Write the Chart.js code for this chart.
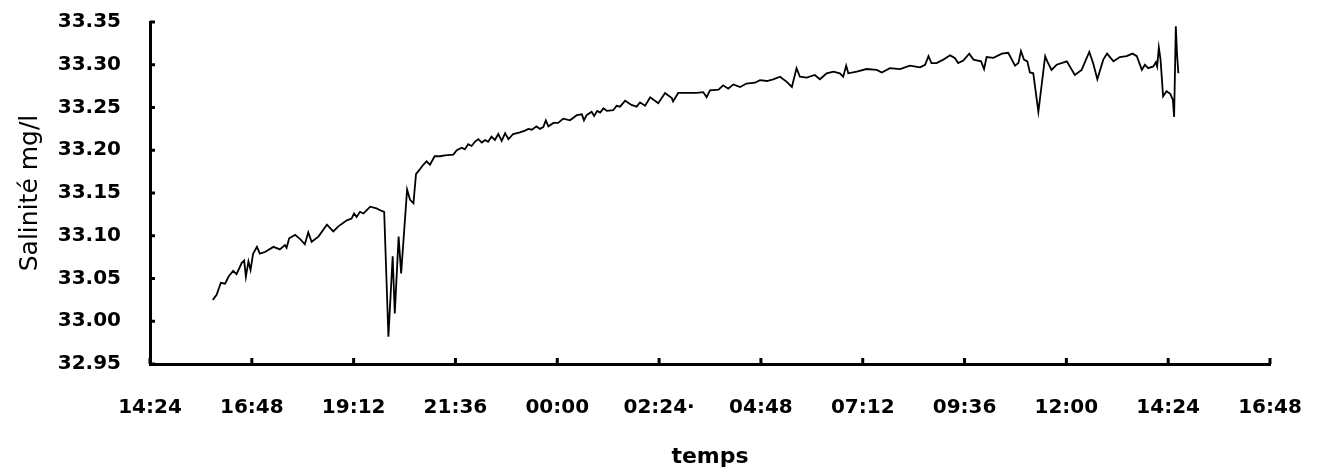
<!DOCTYPE html>
<html>
<head>
<meta charset="utf-8">
<script src="https://cdn.jsdelivr.net/npm/chart.js@4.4.1/dist/chart.umd.min.js"></script>
<style>
  html, body { margin: 0; padding: 0; background: #fff; }
  #wrap { width: 1318px; height: 470px; position: relative; }
</style>
</head>
<body>
<div id="wrap"><canvas id="salChart"></canvas></div>
<script>
// time of day in hours (past 24 = next day), salinity in mg/l
const hours = [
  15.88, 15.97, 16.07, 16.17, 16.25, 16.36, 16.44, 16.56, 16.62, 16.66,
  16.72, 16.77, 16.83, 16.92, 16.99, 17.11, 17.31, 17.46, 17.58, 17.62,
  17.68, 17.82, 17.94, 18.05, 18.13, 18.21, 18.37, 18.57, 18.72, 18.84,
  19.04, 19.15, 19.21, 19.27, 19.35, 19.43, 19.51, 19.59, 19.74, 19.86,
  19.92, 20.02, 20.12, 20.17, 20.26, 20.32, 20.46, 20.53, 20.61, 20.67,
  20.75, 20.84, 20.92, 21.00, 21.11, 21.24, 21.35, 21.55, 21.63, 21.75,
  21.82, 21.90, 21.98, 22.06, 22.14, 22.22, 22.30, 22.37, 22.45, 22.53,
  22.61, 22.69, 22.77, 22.85, 22.96, 23.12, 23.24, 23.32, 23.40, 23.51,
  23.59, 23.67, 23.73, 23.79, 23.91, 24.02, 24.14, 24.30, 24.46, 24.58,
  24.63, 24.69, 24.81, 24.87, 24.94, 25.01, 25.09, 25.17, 25.32, 25.40,
  25.48, 25.60, 25.75, 25.87, 25.95, 26.07, 26.19, 26.38, 26.54, 26.70,
  26.73, 26.85, 27.05, 27.29, 27.44, 27.52, 27.60, 27.80, 27.91, 28.03,
  28.15, 28.31, 28.46, 28.66, 28.78, 28.94, 29.09, 29.25, 29.41, 29.53,
  29.64, 29.72, 29.88, 30.07, 30.19, 30.35, 30.51, 30.66, 30.74, 30.81,
  30.86, 31.06, 31.29, 31.53, 31.65, 31.84, 32.08, 32.31, 32.55, 32.67,
  32.75, 32.82, 32.94, 33.10, 33.26, 33.37, 33.45, 33.57, 33.71, 33.81,
  33.99, 34.06, 34.12, 34.28, 34.48, 34.63, 34.79, 34.87, 34.93, 35.00,
  35.08, 35.14, 35.22, 35.34, 35.50, 35.55, 35.65, 35.77, 36.01, 36.20,
  36.36, 36.54, 36.63, 36.73, 36.87, 36.96, 37.11, 37.26, 37.42, 37.56,
  37.66, 37.78, 37.85, 37.93, 38.05, 38.11, 38.14, 38.18, 38.22, 38.28,
  38.36, 38.45, 38.51, 38.54, 38.58, 38.61, 38.64
];
const salinity = [
  33.025, 33.031, 33.045, 33.044, 33.052, 33.059, 33.055, 33.068, 33.071, 33.052,
  33.070, 33.060, 33.079, 33.087, 33.079, 33.081, 33.087, 33.084, 33.089, 33.086,
  33.097, 33.101, 33.096, 33.090, 33.104, 33.093, 33.099, 33.113, 33.105, 33.111,
  33.118, 33.120, 33.126, 33.122, 33.128, 33.126, 33.130, 33.134, 33.132, 33.129,
  33.128, 32.982, 33.076, 33.009, 33.099, 33.056, 33.154, 33.142, 33.138, 33.172,
  33.177, 33.183, 33.187, 33.183, 33.193, 33.193, 33.194, 33.195, 33.200, 33.203,
  33.201, 33.207, 33.205, 33.210, 33.213, 33.209, 33.212, 33.210, 33.216, 33.212,
  33.219, 33.211, 33.220, 33.213, 33.219, 33.221, 33.223, 33.225, 33.224, 33.228,
  33.225, 33.227, 33.235, 33.228, 33.232, 33.232, 33.237, 33.235, 33.241, 33.242,
  33.235, 33.241, 33.245, 33.240, 33.246, 33.244, 33.249, 33.246, 33.247, 33.252,
  33.251, 33.258, 33.253, 33.251, 33.256, 33.252, 33.262, 33.255, 33.267, 33.261,
  33.257, 33.267, 33.267, 33.267, 33.268, 33.262, 33.270, 33.271, 33.276, 33.272,
  33.277, 33.274, 33.278, 33.279, 33.282, 33.281, 33.283, 33.286, 33.280, 33.274,
  33.296, 33.286, 33.285, 33.288, 33.283, 33.290, 33.292, 33.290, 33.286, 33.299,
  33.290, 33.292, 33.295, 33.294, 33.291, 33.296, 33.295, 33.299, 33.297, 33.300,
  33.310, 33.302, 33.302, 33.306, 33.311, 33.308, 33.302, 33.305, 33.313, 33.306,
  33.304, 33.295, 33.309, 33.308, 33.313, 33.314, 33.299, 33.302, 33.316, 33.306,
  33.304, 33.291, 33.290, 33.245, 33.310, 33.304, 33.294, 33.300, 33.304, 33.288,
  33.294, 33.315, 33.302, 33.283, 33.306, 33.313, 33.304, 33.309, 33.310, 33.313,
  33.310, 33.294, 33.300, 33.296, 33.298, 33.303, 33.298, 33.320, 33.306, 33.263,
  33.269, 33.266, 33.259, 33.239, 33.345, 33.311, 33.290
];

// axis ticks: every 2h24 (0.1 day) and every 0.05 mg/l
const timeTicks = [14.4, 16.8, 19.2, 21.6, 24.0, 26.4, 28.8, 31.2, 33.6, 36.0, 38.4, 40.8];
const timeLabels = ['14:24', '16:48', '19:12', '21:36', '00:00', '02:24\u00B7', '04:48', '07:12', '09:36', '12:00', '14:24', '16:48'];
const salTicks = [32.95, 33.00, 33.05, 33.10, 33.15, 33.20, 33.25, 33.30, 33.35];

const tickFont = { family: 'DejaVu Sans', size: 20, weight: 'bold' };

// small tick marks pointing into the plot, like the original
const innerTicks = {
  id: 'innerTicks',
  afterDraw(chart) {
    const ctx = chart.ctx;
    const x = chart.scales.x, y = chart.scales.y;
    ctx.save();
    ctx.strokeStyle = '#000';
    ctx.lineWidth = 3;
    ctx.beginPath();
    salTicks.forEach(v => {
      const py = y.getPixelForValue(v);
      ctx.moveTo(x.left, py);
      ctx.lineTo(x.left + 5, py);
    });
    timeTicks.forEach(v => {
      const px = x.getPixelForValue(v);
      ctx.moveTo(px, y.bottom);
      ctx.lineTo(px, y.bottom - 6);
    });
    ctx.stroke();
    ctx.restore();
  }
};

new Chart(document.getElementById('salChart'), {
  type: 'line',
  data: {
    datasets: [{
      data: hours.map((h, i) => ({ x: h, y: salinity[i] })),
      borderColor: '#000',
      borderWidth: 1.8,
      pointRadius: 0,
      tension: 0,
      fill: false
    }]
  },
  options: {
    responsive: true,
    maintainAspectRatio: false,
    animation: false,
    layout: { padding: { top: 22, right: 48, left: 0, bottom: 0 } },
    plugins: {
      legend: { display: false },
      tooltip: { enabled: false }
    },
    scales: {
      x: {
        type: 'linear',
        min: 14.4,
        max: 40.8,
        afterBuildTicks: s => { s.ticks = timeTicks.map(v => ({ value: v })); },
        afterFit: s => { s.height = 106; s.paddingLeft = 0; s.paddingRight = 0; },
        grid: { display: false, drawTicks: false },
        border: { display: true, color: '#000', width: 3 },
        ticks: {
          color: '#000',
          font: tickFont,
          padding: 32,
          maxRotation: 0,
          autoSkip: false,
          callback: (v, i) => timeLabels[i]
        },
        title: {
          display: true,
          text: 'temps',
          color: '#000',
          font: { family: 'DejaVu Sans', size: 22, weight: 'bold' },
          padding: { top: 0, bottom: 0 }
        }
      },
      y: {
        min: 32.95,
        max: 33.35,
        afterBuildTicks: s => { s.ticks = salTicks.map(v => ({ value: v })); },
        afterFit: s => { s.width = 150; s.paddingTop = 0; s.paddingBottom = 0; },
        grid: { display: false, drawTicks: false },
        border: { display: true, color: '#000', width: 3 },
        ticks: {
          color: '#000',
          font: tickFont,
          padding: 29,
          callback: v => v.toFixed(2)
        },
        title: {
          display: true,
          text: 'Salinité mg/l',
          color: '#000',
          font: { family: 'DejaVu Sans', size: 25, weight: 'normal' },
          padding: { top: 15, bottom: 0 }
        }
      }
    }
  },
  plugins: [innerTicks]
});
</script>
</body>
</html>
